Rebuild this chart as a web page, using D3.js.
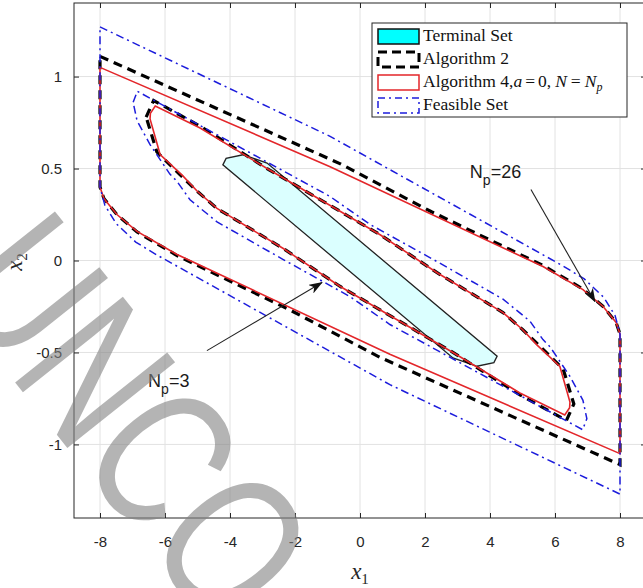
<!DOCTYPE html>
<html>
<head>
<meta charset="utf-8">
<script src="https://cdn.jsdelivr.net/npm/d3@7"></script>
<style>
body { margin: 0; background: #fff; }
</style>
</head>
<body>
<script>
var width = 643;
var height = 588;

// tick values
var xTicks = [-8, -6, -4, -2, 0, 2, 4, 6, 8];
var yTicks = [-1, -0.5, 0, 0.5, 1];

// polygons, [x1, x2]
var terminalSet = [[-4.22, 0.52], [-4.12, 0.555], [-3.6, 0.575], [-2.86, 0.53],
    [4.22, -0.52], [4.12, -0.555], [3.6, -0.575], [2.86, -0.53]];

var alg2Np26 = [[-8, 1.11], [-0.62, 0.527], [2.2, 0.265], [5.63, -0.027], [6.86, -0.155],
    [7.48, -0.25], [7.88, -0.337], [8, -0.40], [8, -1.11], [0.62, -0.527], [-2.2, -0.265],
    [-5.63, 0.027], [-6.86, 0.155], [-7.48, 0.25], [-7.88, 0.337], [-8, 0.40]];

var alg4Np26 = [[-8, 1.05], [-0.92, 0.51], [5.63, -0.033], [6.86, -0.158], [7.48, -0.25],
    [7.88, -0.337], [8, -0.40], [8, -1.05], [0.92, -0.51], [-5.63, 0.033], [-6.86, 0.158],
    [-7.48, 0.25], [-7.88, 0.337], [-8, 0.40]];

var feasNp26 = [[-8, 1.27], [-0.92, 0.675], [6.25, -0.03], [6.9, -0.1], [7.5, -0.2],
    [7.85, -0.3], [8, -0.40], [8, -1.27], [0.92, -0.675], [-6.25, 0.03], [-6.9, 0.1],
    [-7.5, 0.2], [-7.85, 0.3], [-8, 0.40]];

var alg2Np3 = [[-6.58, 0.78], [-6.35, 0.87], [-4.92, 0.73], [-2.86, 0.50], [0.62, 0.14],
    [2.36, -0.065], [4.4, -0.283], [5.0, -0.375], [5.5, -0.46], [6.25, -0.59], [6.58, -0.78],
    [6.35, -0.87], [4.92, -0.73], [2.86, -0.50], [-0.62, -0.14], [-2.36, 0.065], [-4.4, 0.283],
    [-5.0, 0.375], [-5.5, 0.46], [-6.25, 0.59]];

var alg4Np3 = [[-6.45, 0.80], [-6.3, 0.84], [-4.92, 0.72], [-2.86, 0.50], [0.62, 0.14],
    [2.36, -0.065], [4.4, -0.283], [5.0, -0.375], [5.45, -0.46], [6.15, -0.576], [6.46, -0.77],
    [6.45, -0.80], [6.3, -0.84], [4.92, -0.72], [2.86, -0.50], [-0.62, -0.14], [-2.36, 0.065],
    [-4.4, 0.283], [-5.0, 0.375], [-5.45, 0.46], [-6.15, 0.576], [-6.46, 0.77]];

var feasNp3 = [[-6.98, 0.86], [-6.85, 0.92], [-0.92, 0.348], [0.31, 0.196], [2.36, -0.005],
    [4.4, -0.21], [5.23, -0.33], [5.63, -0.43], [5.85, -0.47], [6.46, -0.63], [6.86, -0.76],
    [6.98, -0.86], [6.85, -0.92], [0.92, -0.348], [-0.31, -0.196], [-2.36, 0.005], [-4.4, 0.21],
    [-5.23, 0.33], [-5.63, 0.43], [-5.85, 0.47], [-6.46, 0.63], [-6.86, 0.76]];

// annotations: arrow [from, to] and label anchor
var arrowNp26 = [[5.26, 0.386], [7.23, -0.223]];
var labelNp26 = [3.38, 0.451];
var arrowNp3 = [[-4.71, -0.49], [-1.17, -0.12]];
var labelNp3 = [-6.52, -0.69];

var legendLabels = ["Terminal Set", "Algorithm 2", "Algorithm 4", "Feasible Set"];

var svg = d3.select("body")
    .append("svg")
    .attr("width", width)
    .attr("height", height);

var x = d3.scaleLinear().domain([-8.8, 8.8]).range([74, 646]);
var y = d3.scaleLinear().domain([-1.4, 1.4]).range([518, 3]);

var axisColor = "#262626";
var sans = "'Liberation Sans', Arial, sans-serif";
var serif = "'Liberation Serif', 'Times New Roman', serif";

// grid
var grid = svg.append("g").attr("stroke", "#e2e2e2").attr("stroke-width", 1);
grid.selectAll("line.gx")
    .data(xTicks)
    .enter().append("line")
    .attr("x1", function(d) { return x(d); })
    .attr("x2", function(d) { return x(d); })
    .attr("y1", y.range()[1])
    .attr("y2", y.range()[0]);
grid.selectAll("line.gy")
    .data(yTicks)
    .enter().append("line")
    .attr("y1", function(d) { return y(d); })
    .attr("y2", function(d) { return y(d); })
    .attr("x1", x.range()[0])
    .attr("x2", x.range()[1]);

var line = d3.line()
    .x(function(d) { return x(d[0]); })
    .y(function(d) { return y(d[1]); })
    .curve(d3.curveLinearClosed);

// terminal set
svg.append("path")
    .attr("d", line(terminalSet))
    .attr("fill", "#dbffff")
    .attr("stroke", "#222")
    .attr("stroke-width", 1.3);

// algorithm 2
[alg2Np26, alg2Np3].forEach(function(p) {
    svg.append("path")
        .attr("d", line(p))
        .attr("fill", "none")
        .attr("stroke", "#000")
        .attr("stroke-width", 3.2)
        .attr("stroke-dasharray", "9,6");
});

// algorithm 4
[alg4Np26, alg4Np3].forEach(function(p) {
    svg.append("path")
        .attr("d", line(p))
        .attr("fill", "none")
        .attr("stroke", "#e3262a")
        .attr("stroke-width", 1.6);
});

// feasible set
[feasNp26, feasNp3].forEach(function(p) {
    svg.append("path")
        .attr("d", line(p))
        .attr("fill", "none")
        .attr("stroke", "#1c1cdc")
        .attr("stroke-width", 1.5)
        .attr("stroke-dasharray", "8,4,2,4");
});

// axes, MATLAB style with inward ticks on every side
function styleAxis(g) {
    g.select(".domain").remove();
    g.selectAll(".tick line").attr("stroke", axisColor);
    g.selectAll(".tick text")
        .attr("fill", axisColor)
        .style("font-family", sans)
        .style("font-size", "15px");
}

svg.append("g")
    .attr("transform", "translate(0," + y.range()[0] + ")")
    .call(d3.axisBottom(x).tickValues(xTicks).tickSizeInner(-5).tickSizeOuter(0).tickPadding(18)
        .tickFormat(function(d) { return String(d); }))
    .call(styleAxis);

svg.append("g")
    .attr("transform", "translate(0," + y.range()[1] + ")")
    .call(d3.axisTop(x).tickValues(xTicks).tickSizeInner(-5).tickSizeOuter(0).tickFormat(""))
    .call(styleAxis);

svg.append("g")
    .attr("transform", "translate(" + x.range()[0] + ",0)")
    .call(d3.axisLeft(y).tickValues(yTicks).tickSizeInner(-5).tickSizeOuter(0).tickPadding(12)
        .tickFormat(function(d) { return String(d); }))
    .call(styleAxis);

svg.append("g")
    .attr("transform", "translate(" + x.range()[1] + ",0)")
    .call(d3.axisRight(y).tickValues(yTicks).tickSizeInner(-5).tickSizeOuter(0).tickFormat(""))
    .call(styleAxis);

svg.append("rect")
    .attr("x", x.range()[0])
    .attr("y", y.range()[1])
    .attr("width", x.range()[1] - x.range()[0])
    .attr("height", y.range()[0] - y.range()[1])
    .attr("fill", "none")
    .attr("stroke", axisColor)
    .attr("stroke-width", 1);

// axis labels
var xl = svg.append("text")
    .attr("x", 360)
    .attr("y", 579)
    .attr("text-anchor", "middle")
    .style("font-family", serif)
    .style("font-size", "23px")
    .attr("fill", axisColor);
xl.append("tspan").style("font-style", "italic").text("x");
xl.append("tspan").attr("dy", 5).style("font-size", "15px").text("1");

var yl = svg.append("text")
    .attr("transform", "translate(22,262) rotate(-90)")
    .attr("text-anchor", "middle")
    .style("font-family", serif)
    .style("font-size", "23px")
    .attr("fill", axisColor);
yl.append("tspan").style("font-style", "italic").text("x");
yl.append("tspan").attr("dy", 5).style("font-size", "15px").text("2");

// annotations
svg.append("defs").append("marker")
    .attr("id", "head")
    .attr("viewBox", "0 0 14 10")
    .attr("refX", 13)
    .attr("refY", 5)
    .attr("markerWidth", 14)
    .attr("markerHeight", 10)
    .attr("markerUnits", "userSpaceOnUse")
    .attr("orient", "auto")
    .append("path")
    .attr("d", "M0,0 L14,5 L0,10 L4,5 Z")
    .attr("fill", "#111");

function arrow(a) {
    svg.append("line")
        .attr("x1", x(a[0][0])).attr("y1", y(a[0][1]))
        .attr("x2", x(a[1][0])).attr("y2", y(a[1][1]))
        .attr("stroke", "#222")
        .attr("stroke-width", 1.1)
        .attr("marker-end", "url(#head)");
}
arrow(arrowNp26);
arrow(arrowNp3);

function npLabel(pos, val) {
    var t = svg.append("text")
        .attr("x", x(pos[0]))
        .attr("y", y(pos[1]))
        .style("font-family", sans)
        .style("font-size", "18px")
        .attr("fill", "#1a1a1a");
    t.append("tspan").text("N");
    t.append("tspan").attr("dy", 7).style("font-size", "14px").text("p");
    t.append("tspan").attr("dy", -7).text("=" + val);
}
npLabel(labelNp26, 26);
npLabel(labelNp3, 3);

// legend
var lg = svg.append("g").attr("transform", "translate(372,23)");
lg.append("rect")
    .attr("width", 255).attr("height", 94)
    .attr("fill", "#fff")
    .attr("stroke", axisColor)
    .attr("stroke-width", 1);

var rowY = [12, 35, 58, 81];
var sw = [
    { fill: "#00ffff", stroke: "#111", width: 1.5, dash: null },
    { fill: "none", stroke: "#000", width: 3, dash: "9,5" },
    { fill: "none", stroke: "#e3262a", width: 1.5, dash: null },
    { fill: "none", stroke: "#1c1cdc", width: 1.5, dash: "7,4,2,4" }
];
legendLabels.forEach(function(lab, i) {
    lg.append("rect")
        .attr("x", 6).attr("y", rowY[i] - 6)
        .attr("width", 41).attr("height", 15)
        .attr("fill", sw[i].fill)
        .attr("stroke", sw[i].stroke)
        .attr("stroke-width", sw[i].width)
        .attr("stroke-dasharray", sw[i].dash);
    var t = lg.append("text")
        .attr("x", 51)
        .attr("y", rowY[i] + 6)
        .style("font-family", serif)
        .style("font-size", "17.5px")
        .attr("fill", "#111");
    t.append("tspan").text(lab);
    if (i === 2) {
        t.append("tspan").text(",");
        t.append("tspan").style("font-style", "italic").text("a");
        t.append("tspan").attr("dx", 3).text("=");
        t.append("tspan").attr("dx", 3).text("0,");
        t.append("tspan").attr("dx", 4).style("font-style", "italic").text("N");
        t.append("tspan").attr("dx", 4).text("=");
        t.append("tspan").attr("dx", 4).style("font-style", "italic").text("N");
        t.append("tspan").attr("dy", 4).style("font-size", "12px").style("font-style", "italic").text("p");
    }
});

// proof watermark
var wm = svg.append("text")
    .attr("transform", "translate(-60,288) rotate(51.5) scale(0.75,1)")
    .style("font-family", sans)
    .style("font-size", "200px")
    .attr("fill", "#828282")
    .attr("fill-opacity", 0.6);
wm.append("tspan").text("UNCO");
wm.append("tspan").attr("dx", 60).text("RRECTED PROOF");
</script>
</body>
</html>
